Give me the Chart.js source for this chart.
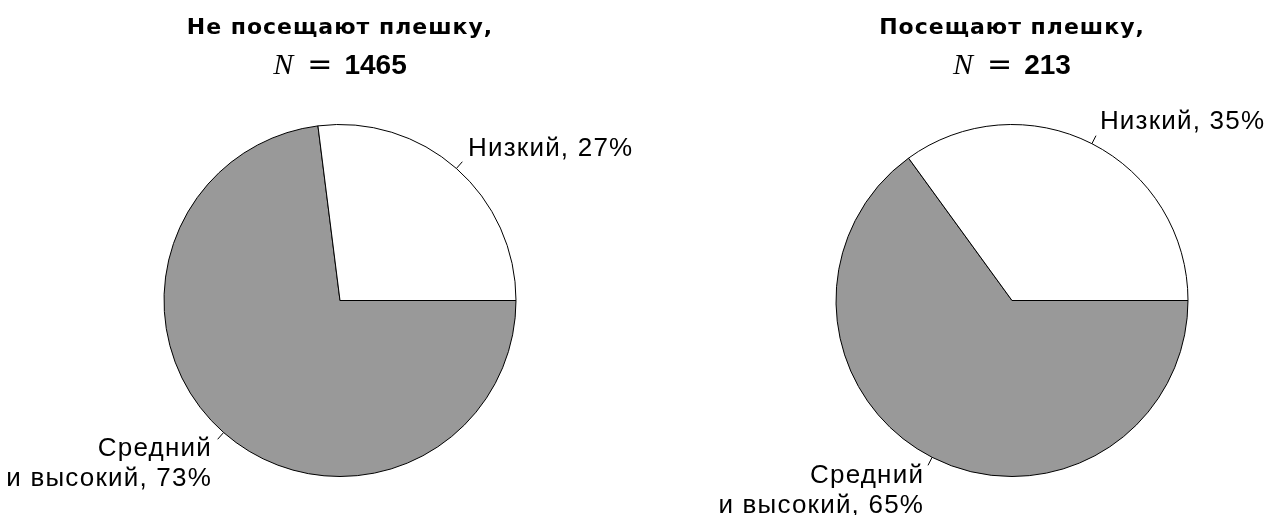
<!DOCTYPE html>
<html lang="ru">
<head>
    <meta charset="UTF-8">
    <title>Посещение плешки</title>
    <script src="https://cdn.jsdelivr.net/npm/chart.js"></script>
    <style>
        html, body { margin: 0; padding: 0; background: #fff; overflow: hidden; width: 1266px; height: 515px; }
        .pie { position: absolute; top: 0; height: 515px; width: 680px; }
        #leftPie { left: 0; }
        #rightPie { left: 672px; }
    </style>
</head>
<body>
    <div class="pie" id="leftPie"><canvas id="leftChart"></canvas></div>
    <div class="pie" id="rightPie"><canvas id="rightChart"></canvas></div>
    <script>
        // Data (order: grey slice first so it runs clockwise from 3 o'clock)
        const categories = ["Средний\nи высокий", "Низкий"];
        const notVisiting = [73, 27];
        const visiting = [65, 35];
        const titles = ["Не посещают плешку,", "Посещают плешку,"];
        const sampleSizes = [1465, 213];
        const sliceColors = ["#999999", "#ffffff"];

        const labelFont = '26px "Liberation Sans"';
        const titleFont = 'bold 22px "DejaVu Sans"';

        // Draws titles, leader ticks and slice labels
        const pieLabels = {
            id: "pieLabels",
            afterDraw(chart, args, opts) {
                const ctx = chart.ctx;
                const meta = chart.getDatasetMeta(0);
                const values = chart.data.datasets[0].data;
                const cx = meta.data[0].x;
                ctx.save();
                ctx.fillStyle = "#000";
                ctx.strokeStyle = "#000";
                ctx.lineWidth = 1;
                ctx.textBaseline = "alphabetic";

                // title
                ctx.font = titleFont;
                ctx.letterSpacing = "1px";
                ctx.textAlign = "center";
                ctx.fillText(opts.title, cx, 34);
                ctx.letterSpacing = "0px";

                // N = value line
                const parts = [
                    { text: "N", font: 'italic 30px "Liberation Serif"', gap: 14 },
                    { text: "=", font: '30px "DejaVu Sans"', gap: 12 },
                    { text: String(opts.n), font: 'bold 28px "Liberation Sans"', gap: 0 }
                ];
                let total = 0;
                parts.forEach(p => { ctx.font = p.font; p.w = ctx.measureText(p.text).width; total += p.w + p.gap; });
                let x = cx - total / 2;
                ctx.textAlign = "left";
                parts.forEach(p => { ctx.font = p.font; ctx.fillText(p.text, x, 74); x += p.w + p.gap; });

                // slice labels
                ctx.font = labelFont;
                ctx.letterSpacing = "1.2px";
                meta.data.forEach((arc, i) => {
                    const mid = (arc.startAngle + arc.endAngle) / 2;
                    const r = arc.outerRadius;
                    const cos = Math.cos(mid), sin = Math.sin(mid);
                    ctx.beginPath();
                    ctx.moveTo(arc.x + cos * r, arc.y + sin * r);
                    ctx.lineTo(arc.x + cos * (r + 9), arc.y + sin * (r + 9));
                    ctx.stroke();

                    const lx = arc.x + cos * r * 1.1;
                    const ly = arc.y + sin * r * 1.1;
                    const lines = (chart.data.labels[i] + ", " + values[i] + "%").split("\n");
                    ctx.textAlign = cos > 0 ? "left" : "right";
                    const base = lines.length === 1 ? ly + 1 : ly + 10;
                    lines.forEach((line, k) => ctx.fillText(line, lx, base + k * 30));
                });
                ctx.restore();
            }
        };

        function makePie(id, values, title, n) {
            new Chart(document.getElementById(id), {
                type: "pie",
                data: {
                    labels: categories,
                    datasets: [{
                        data: values,
                        backgroundColor: sliceColors,
                        borderColor: "#000",
                        borderWidth: 1
                    }]
                },
                options: {
                    responsive: true,
                    maintainAspectRatio: false,
                    animation: false,
                    rotation: 90,
                    layout: { padding: { top: 124, bottom: 38 } },
                    plugins: {
                        legend: { display: false },
                        tooltip: { enabled: false },
                        pieLabels: { title: title, n: n }
                    }
                },
                plugins: [pieLabels]
            });
        }

        makePie("leftChart", notVisiting, titles[0], sampleSizes[0]);
        makePie("rightChart", visiting, titles[1], sampleSizes[1]);
    </script>
</body>
</html>
